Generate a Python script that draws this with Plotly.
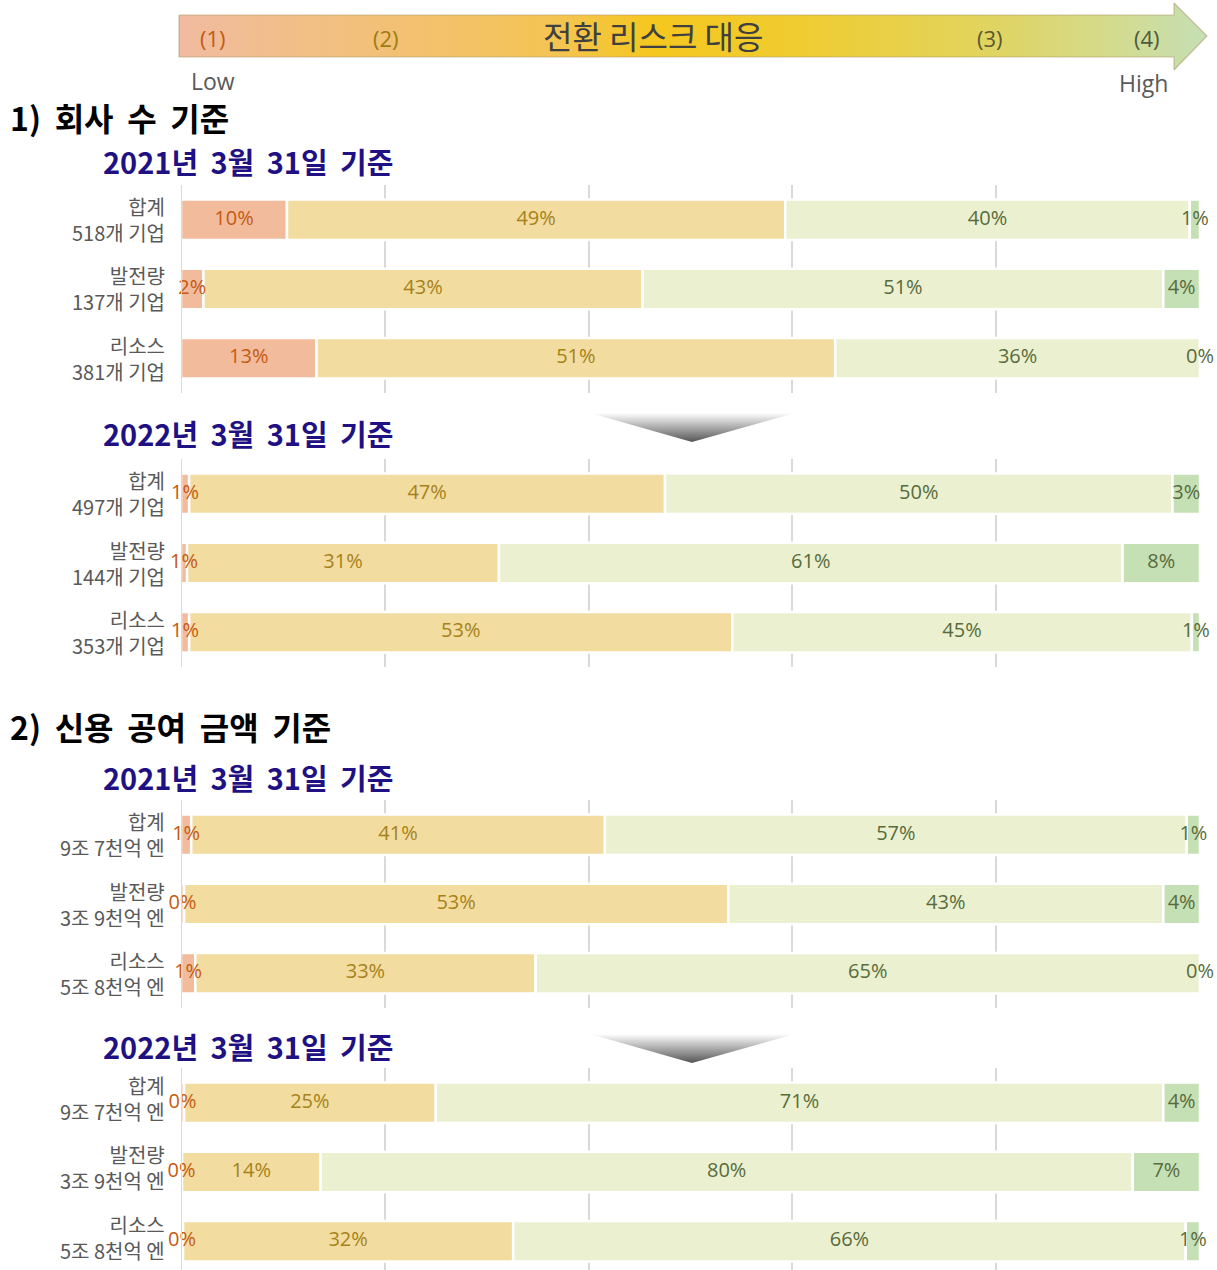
import plotly.graph_objects as go

W, H = 1217, 1270

# ---------------- data ----------------
levels = ["(1)", "(2)", "(3)", "(4)"]

rows_count_2021 = ["합계<br>518개 기업", "발전량<br>137개 기업", "리소스<br>381개 기업"]
rows_count_2022 = ["합계<br>497개 기업", "발전량<br>144개 기업", "리소스<br>353개 기업"]
rows_amount = ["합계<br>9조 7천억 엔", "발전량<br>3조 9천억 엔", "리소스<br>5조 8천억 엔"]

# 1) company count, 2021-03-31  (share %, per risk level)
c21_l1 = [10.4, 2.2, 13.3]
c21_l2 = [48.9, 43.1, 50.9]
c21_l3 = [39.7, 51.1, 35.8]
c21_l4 = [1.0, 3.6, 0.0]

# 1) company count, 2022-03-31
c22_l1 = [0.8, 0.6, 0.8]
c22_l2 = [46.7, 30.6, 53.3]
c22_l3 = [49.8, 61.2, 45.1]
c22_l4 = [2.7, 7.6, 0.8]

# 2) credit amount, 2021-03-31
a21_l1 = [1.0, 0.3, 1.4]
a21_l2 = [40.6, 53.4, 33.4]
a21_l3 = [57.1, 42.7, 65.2]
a21_l4 = [1.3, 3.6, 0.0]

# 2) credit amount, 2022-03-31
a22_l1 = [0.3, 0.1, 0.2]
a22_l2 = [24.7, 13.6, 32.4]
a22_l3 = [71.4, 79.7, 66.0]
a22_l4 = [3.6, 6.6, 1.4]

x_ticks = [0, 20, 40, 60, 80, 100]

# ---------------- styling ----------------
bar_colors = ["#F2BB9C", "#F3DCA0", "#EBF1D0", "#C6E0B5"]
text_colors = ["#C55A11", "#A5821A", "#586B3C", "#586B3C"]
KR = "Noto Sans CJK KR"
NUM = "Open Sans"
SP = " \u2009"


def py(px):
    return 1 - px / H


# rows, series, pixel extent of plot area, y range, row-label shift
panels = [
    (rows_count_2021, [c21_l1, c21_l2, c21_l3, c21_l4], (185, 393), [2.5, -0.5], 0),
    (rows_count_2022, [c22_l1, c22_l2, c22_l3, c22_l4], (459, 667), [2.5, -0.5], 0),
    (rows_amount, [a21_l1, a21_l2, a21_l3, a21_l4], (800, 1008), [2.5, -0.5], 0),
    (rows_amount, [a22_l1, a22_l2, a22_l3, a22_l4], (1068, 1270), [2.414, -0.5], 4),
]

fig = go.Figure()
layout = {}
shapes = []
ann = []

for i, (rows, series, (top, bot), yrange, lshift) in enumerate(panels):
    n = i + 1
    xa = "x" if n == 1 else f"x{n}"
    ya = "y" if n == 1 else f"y{n}"
    ypos = list(range(len(rows)))
    cum = [0.0] * len(rows)
    for k, vals in enumerate(series):
        fig.add_trace(go.Bar(
            x=vals, y=ypos, base=cum[:], orientation="h", width=0.585,
            marker=dict(color=bar_colors[k], line=dict(color="white", width=2.5)),
            xaxis=xa, yaxis=ya, hoverinfo="skip", showlegend=False,
        ))
        centers = [c + v / 2 for c, v in zip(cum, vals)]
        fig.add_trace(go.Scatter(
            x=centers, y=ypos, mode="text",
            text=[f"{round(v):d}%" for v in vals],
            textposition="middle center",
            textfont=dict(family=NUM, size=20, color=text_colors[k]),
            xaxis=xa, yaxis=ya, hoverinfo="skip", showlegend=False, cliponaxis=False,
        ))
        cum = [c + v for c, v in zip(cum, vals)]

    # row labels (two lines each), right aligned left of the axis
    for yi, lab in zip(ypos, rows):
        ann.append(dict(x=166, y=yi, xref="x5", yref=ya, text=lab, showarrow=False,
                        xanchor="right", yanchor="middle", align="right",
                        yshift=lshift, borderpad=0,
                        font=dict(family=KR, size=20, color="#595959")))

    xkey = "xaxis" if n == 1 else f"xaxis{n}"
    ykey = "yaxis" if n == 1 else f"yaxis{n}"
    layout[xkey] = dict(
        domain=[181 / W, 1200 / W], range=[0, 100], tickvals=x_ticks,
        showticklabels=False, showgrid=True, gridcolor="#D9D9D9", gridwidth=2,
        zeroline=False, showline=False, anchor=ya, fixedrange=True,
    )
    layout[ykey] = dict(
        domain=[py(bot), py(top)], range=yrange, tickvals=ypos,
        showticklabels=False, showgrid=False, zeroline=False, showline=False,
        anchor=xa, ticks="", fixedrange=True,
    )
    shapes.append(dict(type="line", xref=xa, yref=f"{ya} domain", x0=0, x1=0, y0=0, y1=1,
                       line=dict(color="#D9D9D9", width=2), layer="above"))

# overlay axis in pixel coordinates for decorations
layout["xaxis5"] = dict(domain=[0, 1], range=[0, W], visible=False, fixedrange=True, anchor="y5")
layout["yaxis5"] = dict(domain=[0, 1], range=[H, 0], visible=False, fixedrange=True, anchor="x5")

# top arrow with horizontal gradient
ax = [179, 1174, 1174, 1207, 1174, 1174, 179, 179]
ay = [15, 15, 3, 36, 70, 57, 57, 15]
fig.add_trace(go.Scatter(
    x=ax, y=ay, mode="lines", fill="toself",
    line=dict(color="rgba(170,150,100,0.55)", width=1.2),
    fillgradient=dict(type="horizontal", colorscale=[
        [0.0, "#F0BBA0"], [0.17, "#F2C07C"], [0.37, "#F4C452"], [0.46, "#F5C71E"],
        [0.60, "#F0CC30"], [0.77, "#E2D35A"], [0.9, "#D5DA8A"], [1.0, "#C5DFB5"]]),
    xaxis="x5", yaxis="y5", hoverinfo="skip", showlegend=False,
))

# down chevrons
for top in (413, 1034):
    fig.add_trace(go.Scatter(
        x=[590, 795, 692, 590], y=[top, top, top + 29, top], mode="lines", fill="toself",
        line=dict(width=0, color="rgba(0,0,0,0)"),
        fillgradient=dict(type="vertical", colorscale=[[0, "#555555"], [1, "#FFFFFF"]]),
        xaxis="x5", yaxis="y5", hoverinfo="skip", showlegend=False,
    ))


def txt(x, y, s, size, color, anchor="left", family=KR):
    ann.append(dict(x=x, y=y, xref="x5", yref="y5", text=s, showarrow=False,
                    xanchor=anchor, yanchor="middle",
                    font=dict(family=family, size=size, color=color)))


arrow_label_x = [213, 386, 990, 1147]
arrow_label_c = ["#C55A11", "#9C7C12", "#5A5A30", "#4D5B40"]
for lx, lab, lc in zip(arrow_label_x, levels, arrow_label_c):
    txt(lx, 38, lab, 22, lc, "center", NUM)
txt(653, 35, "전환 리스크 대응", 32, "#404040", "center")
txt(189, 81, "Low", 23, "#595959", "left", NUM)
txt(1170, 83, "High", 23, "#595959", "right", NUM)

title1 = SP.join(["1)", "회사", "수", "기준"])
title2 = SP.join(["2)", "신용", "공여", "금액", "기준"])
sub21 = SP.join(["2021년", "3월", "31일", "기준"])
sub22 = SP.join(["2022년", "3월", "31일", "기준"])

txt(8, 117, f"<b>{title1}</b>", 32, "#000000")
txt(101, 161, f"<b>{sub21}</b>", 29, "#1F1183")
txt(101, 433, f"<b>{sub22}</b>", 29, "#1F1183")
txt(8, 726, f"<b>{title2}</b>", 32, "#000000")
txt(101, 777, f"<b>{sub21}</b>", 29, "#1F1183")
txt(101, 1046, f"<b>{sub22}</b>", 29, "#1F1183")

fig.update_layout(
    width=W, height=H, margin=dict(l=0, r=0, t=0, b=0),
    paper_bgcolor="white", plot_bgcolor="rgba(0,0,0,0)",
    barmode="overlay", showlegend=False,
    annotations=ann, shapes=shapes,
    **layout,
)

fig.write_html(
    "out.html",
    config={"displayModeBar": False},
    post_script="document.body.style.margin='0';document.body.style.overflow='hidden';",
)
